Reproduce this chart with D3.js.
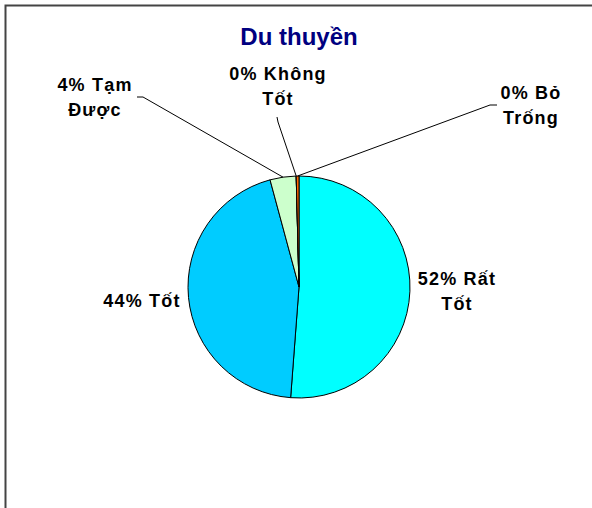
<!DOCTYPE html>
<html>
<head>
<meta charset="utf-8">
<script src="https://cdn.jsdelivr.net/npm/d3@7"></script>
<style>
  html, body { margin: 0; padding: 0; background: #fff; }
  svg { display: block; }
  text { font-family: "Liberation Sans", Arial, sans-serif; }
</style>
</head>
<body>
<script>
// ---- data ----
const categories = ["Rất Tốt", "Tốt", "Tạm Được", "Không Tốt", "Bỏ Trống"];
const values = [51.2, 44.6, 3.8, 0, 0.4];
const percentLabels = ["52%", "44%", "4%", "0%", "0%"];
const labelLines = [["52% Rất", "Tốt"], ["44% Tốt"], ["4% Tạm", "Được"], ["0% Không", "Tốt"], ["0% Bỏ", "Trống"]];
const colors = ["#00FFFF", "#00CCFF", "#CCFFCC", "#9999FF", "#FF6600"];
const title = "Du thuyền";

// ---- layout ----
const W = 592, H = 508;
const cx = 299, cy = 287, R = 111;
// label block anchor (x center, first baseline) relative to pie centre
const labelPos = [[158, -2], [-157, 20], [-204, -196], [-21, -207], [232, -188]];
// leader: elbow points relative to pie centre (null = no leader)
const leaders = [null, null, [[-162, -190], [-156, -190]], [[-22, -170], [-21, -165]], [[198, -182], [191, -182]]];
const lineH = 25;

const svg = d3.select("body").append("svg").attr("width", W).attr("height", H);

svg.append("rect").attr("x", 5.5).attr("y", 5.5).attr("width", 620).attr("height", 540)
  .attr("fill", "#fff").attr("stroke", "#444").attr("stroke-width", 2);

svg.append("text").attr("x", cx).attr("y", 45).attr("text-anchor", "middle")
  .attr("font-size", 24).attr("font-weight", "bold").attr("fill", "#000080").text(title);

const pie = d3.pie().sort(null).value(d => d)(values);
const arc = d3.arc().innerRadius(0).outerRadius(R);
const g = svg.append("g").attr("transform", `translate(${cx},${cy})`);

g.selectAll("path.slice").data(pie).join("path").attr("class", "slice")
  .attr("d", arc).attr("fill", (d, i) => colors[i])
  .attr("stroke", "#000").attr("stroke-width", 1);

// leader lines
const edge = d3.arc().innerRadius(R).outerRadius(R);
pie.forEach((d, i) => {
  if (!leaders[i]) return;
  const p = edge.centroid(d);
  const pts = [leaders[i][0], leaders[i][1], p];
  g.append("path").attr("d", d3.line()(pts)).attr("fill", "none")
    .attr("stroke", "#000").attr("stroke-width", 1);
});

// labels
pie.forEach((d, i) => {
  const t = g.append("text").attr("text-anchor", "middle")
    .attr("font-size", 18).attr("font-weight", "bold").attr("fill", "#000")
    .style("letter-spacing", "1.2px");
  labelLines[i].forEach((ln, j) => {
    t.append("tspan").attr("x", labelPos[i][0]).attr("y", labelPos[i][1] + j * lineH).text(ln);
  });
});
</script>
</body>
</html>
